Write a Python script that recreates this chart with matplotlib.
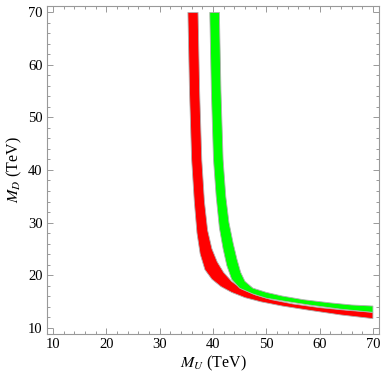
import matplotlib
matplotlib.use("Agg")
import matplotlib.pyplot as plt
from matplotlib.ticker import MultipleLocator

plt.rcParams['font.family'] = 'Liberation Serif'
plt.rcParams['mathtext.fontset'] = 'stix'

# band edges (M_U, M_D in TeV)
red_lo_x = [35.3, 35.6, 36.0, 36.5, 37.0, 37.6, 38.5, 39.8, 41.5, 43.5, 46.0, 49.0, 53.0, 58.0, 64.0, 70.0]
red_lo_y = [70.0, 55.0, 42.0, 34.0, 28.0, 24.0, 21.0, 19.2, 17.8, 16.7, 15.7, 14.9, 14.1, 13.3, 12.4, 11.7]
red_hi_x = [37.2, 37.5, 37.9, 38.4, 39.0, 39.8, 40.8, 42.0, 43.5, 45.5, 48.0, 51.0, 55.0, 60.0, 65.0, 70.0]
red_hi_y = [70.0, 55.0, 42.0, 34.0, 28.5, 25.0, 22.5, 20.5, 18.8, 17.3, 16.2, 15.3, 14.5, 13.8, 13.3, 12.9]

green_lo_x = [39.4, 39.7, 40.1, 40.6, 41.2, 41.9, 42.6, 43.5, 45.0, 47.5, 50.0, 53.5, 58.0, 64.0, 70.0]
green_lo_y = [70.0, 55.0, 42.0, 35.0, 29.0, 25.0, 21.8, 19.2, 17.5, 16.4, 15.6, 15.0, 14.3, 13.5, 12.9]
green_hi_x = [41.2, 41.5, 41.9, 42.4, 43.0, 43.8, 44.5, 45.2, 46.0, 47.5, 50.0, 53.0, 57.0, 62.0, 66.0, 70.0]
green_hi_y = [70.0, 55.0, 42.0, 35.0, 30.0, 26.0, 23.0, 20.5, 18.8, 17.5, 16.7, 16.0, 15.3, 14.7, 14.3, 14.1]

ticks = [10, 20, 30, 40, 50, 60, 70]

fig = plt.figure(figsize=(3.82, 3.82), dpi=100)
ax = fig.add_axes([0.122, 0.126, 0.871, 0.858])

ax.fill(red_lo_x + red_hi_x[::-1], red_lo_y + red_hi_y[::-1],
        facecolor='#ff0000', edgecolor='#b0b0b0', linewidth=0.6)
ax.fill(green_lo_x + green_hi_x[::-1], green_lo_y + green_hi_y[::-1],
        facecolor='#00ff00', edgecolor='#b0b0b0', linewidth=0.6)

ax.set_xlim(8.8, 71.2)
ax.set_ylim(8.8, 71.2)
ax.set_xticks(ticks)
ax.set_yticks(ticks)
ax.xaxis.set_minor_locator(MultipleLocator(2))
ax.yaxis.set_minor_locator(MultipleLocator(2))

for s in ax.spines.values():
    s.set_color('#999999')
    s.set_linewidth(0.8)
ax.tick_params(which='both', direction='in', top=True, right=True,
               color='#999999', width=0.7, labelsize=10.5, pad=3)
ax.tick_params(which='major', length=4.5)
ax.tick_params(which='minor', length=2.5)

ax.set_xlabel('$M_U$ (TeV)', fontsize=11.5, labelpad=2)
ax.set_ylabel('$M_D$ (TeV)', fontsize=11.5, labelpad=3)

fig.savefig('out.png', dpi=100)
